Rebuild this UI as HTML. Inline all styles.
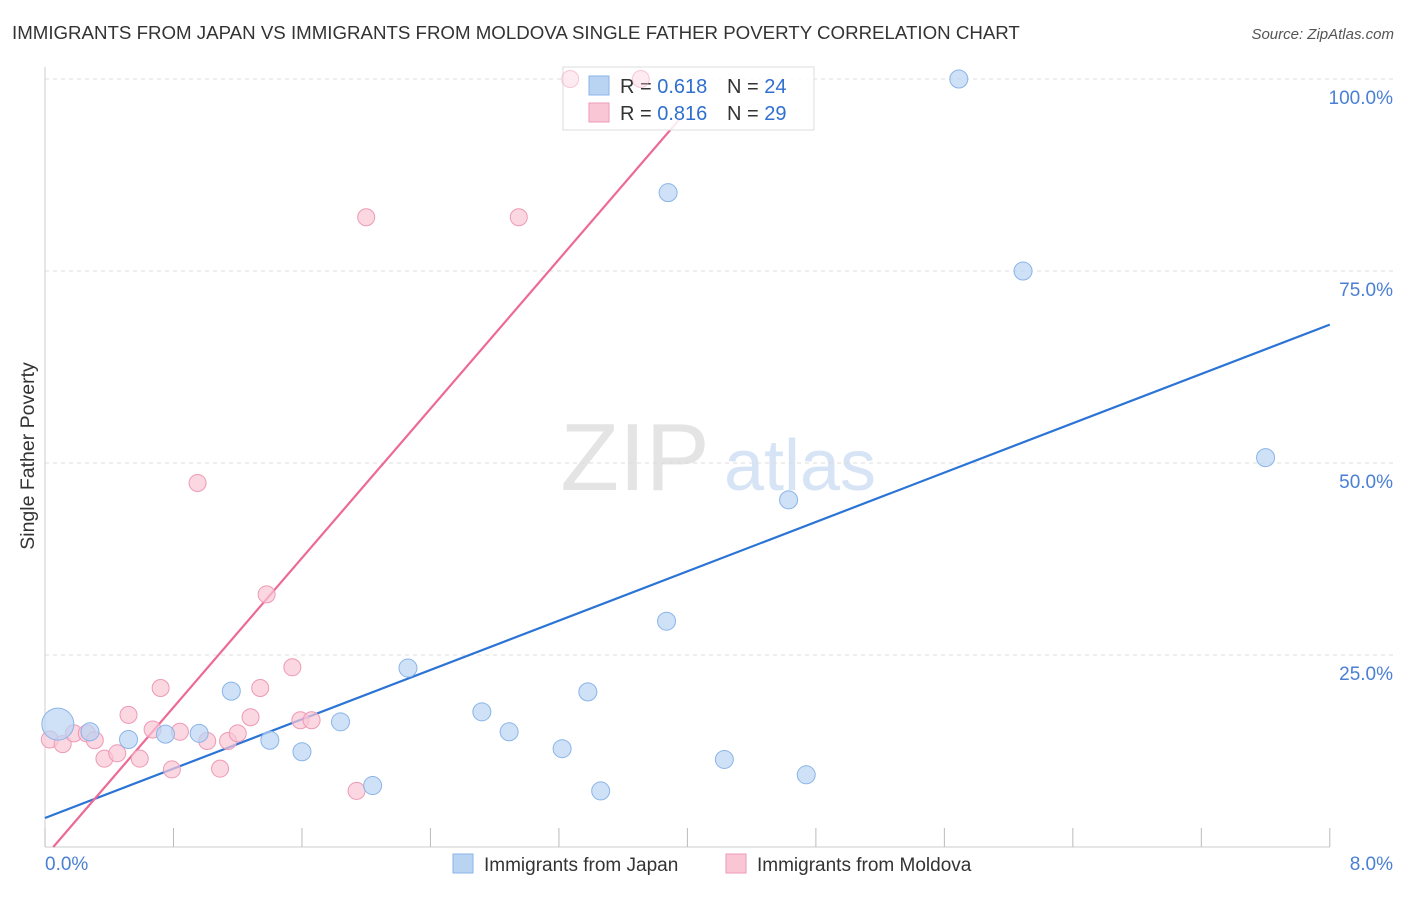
<!DOCTYPE html>
<html><head><meta charset="utf-8"><style>
body{margin:0;background:#fff;font-family:"Liberation Sans",sans-serif;}
svg text{font-family:"Liberation Sans",sans-serif;}
</style></head><body>
<svg id="chart" width="1406" height="892" viewBox="0 0 1406 892" xmlns="http://www.w3.org/2000/svg">
<text x="12" y="39" font-size="18.7" fill="#333">IMMIGRANTS FROM JAPAN VS IMMIGRANTS FROM MOLDOVA SINGLE FATHER POVERTY CORRELATION CHART</text>
<text x="1394" y="39" font-size="15" fill="#555" font-style="italic" text-anchor="end">Source: ZipAtlas.com</text>
<text x="34" y="456" font-size="19.5" fill="#333" text-anchor="middle" transform="rotate(-90 34 456)">Single Father Poverty</text>
<g>
<text x="635" y="490" font-size="96" font-family="Liberation Serif,serif" fill="#e4e4e4" text-anchor="middle">ZIP</text>
<text x="800" y="490" font-size="72" fill="#d6e4f5" text-anchor="middle">atlas</text>
</g>
<g id="grid"></g><g id="lines"></g>
<g>
<rect x="563" y="67" width="251" height="63" fill="#fff" fill-opacity="0.85" stroke="#ddd"/>
<rect x="589" y="76" width="20" height="19" fill="#b9d4f3" stroke="#8ab4e8"/>
<rect x="589" y="103" width="20" height="19" fill="#f9c6d6" stroke="#ee9ab5"/>
<text x="620" y="93" font-size="20" fill="#333">R = <tspan fill="#2f6fd0">0.618</tspan></text>
<text x="727" y="93" font-size="20" fill="#333">N = <tspan fill="#2f6fd0">24</tspan></text>
<text x="620" y="120" font-size="20" fill="#333">R = <tspan fill="#2f6fd0">0.816</tspan></text>
<text x="727" y="120" font-size="20" fill="#333">N = <tspan fill="#2f6fd0">29</tspan></text>
</g>
<g id="pts"></g>
<g>
<rect x="453" y="854" width="20" height="19" fill="#b9d4f3" stroke="#8ab4e8"/>
<text x="484" y="871" font-size="19" fill="#333">Immigrants from Japan</text>
<rect x="726" y="854" width="20" height="19" fill="#f9c6d6" stroke="#ee9ab5"/>
<text x="757" y="871" font-size="19" fill="#333">Immigrants from Moldova</text>
</g>
</svg>
<script>
const yTicks=[25,50,75,100];
const yTickLabels=["25.0%","50.0%","75.0%","100.0%"];
const xTickLabels=["0.0%","8.0%"];
const japanX=[0.08,0.28,0.52,0.75,0.96,1.16,1.4,1.6,1.84,2.04,2.26,2.72,2.89,3.22,3.38,3.46,3.87,3.88,4.23,4.63,4.74,5.69,6.09,7.6];
const japanY=[16,15,14,14.7,14.8,20.3,13.9,12.4,16.3,8,23.3,17.6,15,12.8,20.2,7.3,29.4,85.2,11.4,45.2,9.4,100,75,50.7];
const moldX=[0.03,0.11,0.18,0.26,0.31,0.37,0.45,0.52,0.59,0.67,0.72,0.79,0.84,0.95,1.01,1.09,1.14,1.2,1.28,1.34,1.38,1.54,1.59,1.66,1.94,2.0,2.95,3.27,3.71];
const moldY=[14,13.4,14.8,14.8,13.9,11.5,12.2,17.2,11.5,15.3,20.7,10.1,15,47.4,13.8,10.2,13.8,14.8,16.9,20.7,32.9,23.4,16.5,16.5,7.3,82,82,100,100];
const japanSize=[16,9,9,9,9,9,9,9,9,9,9,9,9,9,9,9,9,9,9,9,9,9,9,9];
const blueFit=[3.78,8.03];
const pinkFit=[-1.25,24.3];
const X=v=>45+v*160.6, Y=v=>847-v*7.68;
const NS="http://www.w3.org/2000/svg";
function mk(t,a,p){const e=document.createElementNS(NS,t);for(const k in a)e.setAttribute(k,a[k]);p.appendChild(e);return e;}
const grid=document.getElementById('grid');
yTicks.forEach((t,i)=>{
 const l=mk('line',{x1:45,x2:1394,y1:Y(t),y2:Y(t),stroke:'#ddd','stroke-dasharray':'4,4'},grid);
 
 
 const tx=mk('text',{x:1393,y:Y(t)+25,'font-size':19,fill:'#4a7fd4','text-anchor':'end'},grid);
 tx.textContent=yTickLabels[i];
 
 
});
mk('line',{x1:45,x2:45,y1:67,y2:847,stroke:'#ccc'},grid);
mk('line',{x1:45,x2:1330,y1:847,y2:847,stroke:'#ccc'},grid);
for(let i=0;i<=10;i++){const t=mk('line',{x1:X(i*0.8),x2:X(i*0.8),y1:828,y2:847,stroke:'#bbb'},grid);
 
 }
[[0,45,'start'],[8,1393,'end']].forEach((d,i)=>{const tx=mk('text',{x:d[1],y:870,'font-size':19,fill:'#4a7fd4','text-anchor':d[2]},grid);tx.textContent=xTickLabels[i];
 
 });
const lines=document.getElementById('lines');
const bl=mk('line',{x1:X(0),y1:Y(blueFit[0]),x2:X(8),y2:Y(blueFit[0]+8*blueFit[1]),stroke:'#2b74d6','stroke-width':2.2},lines);


const x0=-pinkFit[0]/pinkFit[1], x1=(94.9-pinkFit[0])/pinkFit[1];
const pl=mk('line',{x1:X(x0),y1:Y(0),x2:X(x1),y2:Y(94.9),stroke:'#ec6a95','stroke-width':2.2},lines);


const pts=document.getElementById('pts');
moldX.forEach((v,i)=>{const c=mk('circle',{cx:X(v),cy:Y(moldY[i]),r:8.5,fill:'#f9c6d6','fill-opacity':moldY[i]>=99?0.35:0.7,stroke:'#ee9ab5','stroke-opacity':moldY[i]>=99?0.5:1},pts);
 
 });
japanX.forEach((v,i)=>{const c=mk('circle',{cx:X(v),cy:Y(japanY[i]),r:japanSize[i]===9?9:japanSize[i],fill:'#b9d4f3','fill-opacity':0.7,stroke:'#8ab4e8'},pts);
 
 });
</script>
</body></html>
